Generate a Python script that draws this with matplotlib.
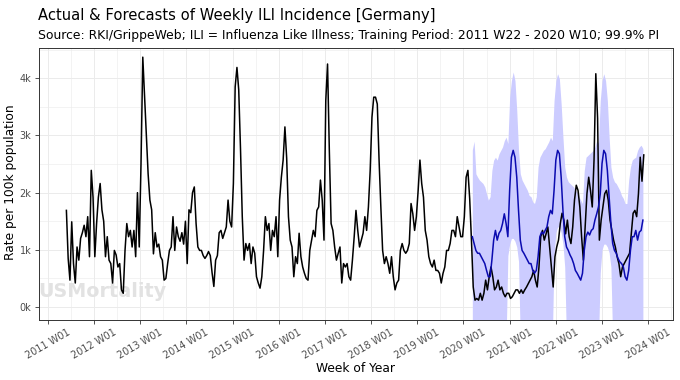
import numpy as np
import matplotlib
matplotlib.use("Agg")
from matplotlib import pyplot as plt
from matplotlib.ticker import FuncFormatter, MultipleLocator

# weekly ILI rate per 100k, read every second week from 2011 W22
actual_start = (2011, 22)
actual = [
    1690, 850, 470, 1490, 760, 420, 1050, 820, 1200, 1300, 1430, 1230, 1580, 880, 2390, 1920,
    880, 1460, 1920, 2160, 1700, 1500, 880, 1230, 820, 760, 420, 990, 910, 700, 760, 300,
    240, 990, 1460, 1230, 1340, 1050, 1340, 880, 2000, 1050, 2500, 4370, 3700, 3000, 2330, 1870,
    1700, 930, 1300, 1050, 1100, 880, 820, 470, 500, 760, 990, 1050, 1580, 990, 1400, 1230,
    1150, 1300, 1100, 1500, 760, 1700, 1650, 2000, 2100, 1460, 1050, 990, 990, 900, 850, 900,
    970, 900, 600, 360, 820, 900, 1300, 1340, 1200, 1300, 1400, 1870, 1500, 1400, 2160, 3850,
    4190, 3800, 2770, 1580, 820, 1110, 990, 1110, 760, 1050, 940, 530, 420, 330, 530, 990,
    1580, 1340, 1460, 990, 1340, 1230, 1580, 880, 1870, 2270, 2570, 3150, 2600, 1580, 1170, 1050,
    530, 880, 760, 1290, 880, 700, 590, 500, 470, 990, 1170, 1340, 1230, 1690, 1750, 2220,
    1870, 1170, 3610, 4250, 2740, 1460, 1340, 1050, 820, 940, 1050, 420, 760, 700, 760, 530,
    470, 820, 1230, 1690, 1340, 1050, 1170, 1290, 1580, 1340, 1750, 2390, 3320, 3670, 3670, 3550,
    2570, 1750, 990, 760, 880, 760, 590, 880, 530, 300, 420, 470, 990, 1110, 990, 940,
    990, 1110, 1810, 1630, 1340, 1580, 2040, 2570, 2160, 1920, 1340, 1170, 880, 760, 700, 820,
    640, 640, 590, 420, 590, 700, 990, 990, 1110, 1340, 1340, 1230, 1580, 1400, 1230, 1230,
    1580, 2270, 2390, 1900, 1170, 350, 120, 150, 120, 240, 120, 240, 470, 300, 530, 700,
    530, 300, 350, 470, 300, 350, 240, 180, 240, 240, 150, 180, 240, 300, 300, 240,
    300, 240, 300, 350, 410, 470, 530, 640, 470, 350, 700, 1230, 1340, 1170, 1280, 1400,
    1050, 700, 350, 880, 1050, 1170, 1460, 1640, 1520, 1280, 1520, 1230, 1110, 1400, 1870, 2130,
    2040, 1750, 1230, 820, 1400, 1980, 2270, 2040, 1750, 2570, 4080, 3300, 1170, 1520, 1750, 1980,
    2040, 1870, 1520, 1340, 1170, 1050, 880, 760, 530, 700, 760, 820, 880, 940, 1280, 1640,
    1690, 1580, 1980, 2620, 2200, 2660,
]

# forecast from 2020 W11, every second week
forecast_start = (2020, 11)
forecast = [
    1230, 1110, 990, 940, 940, 880, 820, 760, 640, 530, 530, 820, 1170, 1340, 1170, 1290,
    1340, 1460, 1630, 1460, 1230, 2040, 2620, 2740, 2620, 2270, 1690, 1170, 990, 940, 880, 820,
    760, 760, 640, 590, 640, 880, 1230, 1310, 1280, 1340, 1400, 1580, 1690, 1630, 2040, 2570,
    2740, 2680, 2270, 1690, 1230, 1050, 990, 910, 850, 760, 640, 590, 530, 470, 590, 990,
    1230, 1310, 1260, 1340, 1370, 1520, 1630, 1750, 1980, 2510, 2740, 2680, 2390, 1920, 1460, 1110,
    990, 940, 850, 790, 760, 700, 530, 470, 640, 990, 1230, 1230, 1340, 1170, 1310, 1340,
    1520,
]
pi_upper = [
    2750, 2900, 2330, 2270, 2220, 2190, 2160, 2100, 1980, 1870, 1930, 2390, 2570, 2620, 2570, 2680,
    2740, 2800, 2910, 2970, 2860, 3670, 3960, 4110, 3960, 3440, 2740, 2330, 2220, 2160, 2100, 2040,
    1950, 1930, 1840, 1810, 1930, 2450, 2620, 2680, 2740, 2770, 2830, 2890, 2970, 2910, 3610, 3960,
    4080, 3990, 3550, 2970, 2450, 2270, 2190, 2160, 2130, 2100, 2040, 2010, 1930, 1870, 1810, 2390,
    2620, 2650, 2680, 2710, 2740, 2800, 2910, 2860, 3610, 3960, 4080, 3960, 3610, 2970, 2450, 2270,
    2190, 2160, 2100, 2040, 1950, 1900, 1810, 1810, 2220, 2450, 2570, 2600, 2620, 2740, 2800, 2830,
    2770,
]
pi_lower = [
    -600, -600, -600, -600, -600, -600, -600, -600, -600, -600, -600, -600, -600, -600, -600, -600,
    -600, -600, -600, -600, 900, 1100, 1200, 1200, 1150, 1050, 800, -600, -600, -600, -600, -600,
    -600, -600, -600, -600, -600, -600, -600, -600, -600, -600, -600, -600, -600, -600, 900, 1300,
    1400, 1400, 1300, 1100, 700, -600, -600, -600, -600, -600, -600, -600, -600, -600, -600, -600,
    -600, -600, -600, -600, -600, -600, -600, -600, 600, 1000, 1100, 1100, 1050, 950, 700, -600,
    -600, -600, -600, -600, -600, -600, -600, -600, -600, -600, -600, -600, -600, -600, -600, -600,
    -600,
]

tick_years = list(range(2011, 2025))
tick_labels = [f"{y} W01" for y in tick_years]


def week_axis(start, n):
    year, week = start
    return year + (week - 1) / 52 + np.arange(n) * 2 / 52


t_act = week_axis(actual_start, len(actual))
t_fc = week_axis(forecast_start, len(forecast))

W, H = 680, 380
fig = plt.figure(figsize=(W / 100, H / 100), dpi=100)
left, right, top, bottom = 38.5, 672.7, 48, 320
ax = fig.add_axes([left / W, 1 - bottom / H, (right - left) / W, (bottom - top) / H])

ax.fill_between(t_fc, pi_lower, pi_upper, color="#ccccff", linewidth=0, zorder=2)
ax.plot(t_act, actual, color="black", lw=1.1, zorder=3)
ax.plot(t_fc, forecast, color="#0b0bb0", lw=1.1, zorder=4)

ax.text(0.0, 0.085, "USMortality", transform=ax.transAxes, fontsize=13.8,
        fontweight="bold", color="#e2e2e2", ha="left", va="baseline", zorder=1)

ax.set_xlim(2010.80, 2024.53)
ax.set_ylim(-227, 4530)
ax.set_xticks(tick_years)
ax.set_xticklabels(tick_labels)
ax.xaxis.set_minor_locator(MultipleLocator(0.5))
ax.yaxis.set_major_locator(MultipleLocator(1000))
ax.yaxis.set_minor_locator(MultipleLocator(500))
ax.yaxis.set_major_formatter(FuncFormatter(lambda v, p: f"{int(v / 1000)}k"))

ax.grid(True, which="major", color="#ebebeb", lw=0.7, zorder=0)
ax.grid(True, which="minor", color="#ebebeb", lw=0.4, zorder=0)
ax.set_axisbelow(True)
for s in ax.spines.values():
    s.set_color("#333333")
    s.set_linewidth(0.7)
ax.tick_params(axis="both", which="major", length=3, width=0.6, color="#333333",
               labelsize=7, labelcolor="#4d4d4d", pad=2)
ax.tick_params(axis="both", which="minor", length=0)
ax.tick_params(axis="x", labelrotation=30)

fig.text(left / W, 1 - 20 / H, "Actual & Forecasts of Weekly ILI Incidence [Germany]",
         fontsize=10.6, va="baseline", ha="left")
fig.text(left / W, 1 - 39 / H,
         "Source: RKI/GrippeWeb; ILI = Influenza Like Illness; Training Period: 2011 W22 - 2020 W10; 99.9% PI",
         fontsize=8.9, va="baseline", ha="left")
fig.text(11 / W, 1 - 182 / H, "Rate per 100k population", rotation=90, fontsize=8.8,
         va="center", ha="center")
fig.text((left + right) / 2 / W, 1 - 368 / H, "Week of Year", fontsize=8.8,
         va="center", ha="center")

fig.savefig("out.png", dpi=100)
